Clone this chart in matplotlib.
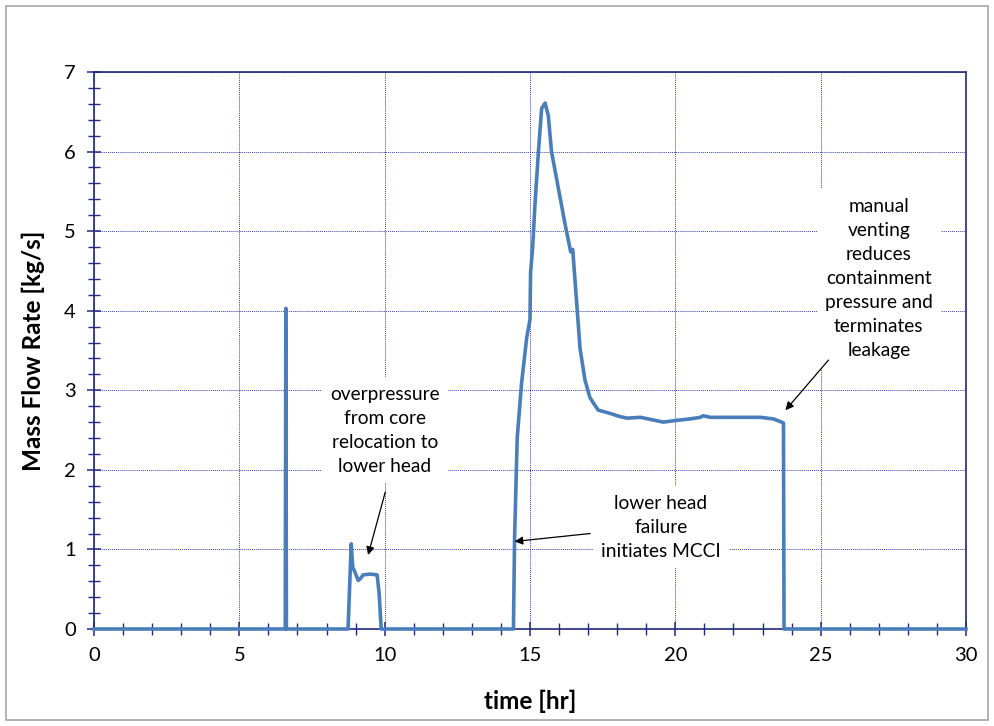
import matplotlib.pyplot as plt
from matplotlib.patches import Rectangle
from matplotlib.ticker import MultipleLocator

# time [hr] and mass flow rate [kg/s]
time_hr = [0, 6.58, 6.60, 6.62,
           8.74, 8.85, 8.90, 8.97, 9.09, 9.18, 9.26, 9.50, 9.74, 9.81, 9.88,
           14.43, 14.47, 14.56, 14.71, 14.89, 15.00, 15.02, 15.09, 15.17,
           15.29, 15.40, 15.52, 15.63, 15.74, 15.97, 16.20, 16.40, 16.47,
           16.51, 16.63, 16.72, 16.89, 17.06, 17.18, 17.35, 17.66, 18.09,
           18.34, 18.80, 19.20, 19.59, 20.00, 20.50, 20.86, 20.96, 21.20,
           22.00, 22.93, 23.38, 23.72, 23.74, 30]
flow = [0, 0, 4.03, 0,
        0, 1.07, 0.78, 0.72, 0.61, 0.64, 0.68, 0.69, 0.68, 0.45, 0,
        0, 1.15, 2.40, 3.09, 3.67, 3.89, 4.48, 4.79, 5.33,
        6.00, 6.54, 6.61, 6.45, 6.00, 5.55, 5.10, 4.74, 4.77,
        4.57, 3.98, 3.53, 3.13, 2.91, 2.84, 2.75, 2.72, 2.67,
        2.65, 2.66, 2.63, 2.60, 2.62, 2.64, 2.66, 2.68, 2.66,
        2.66, 2.66, 2.64, 2.59, 0, 0]

notes = ["overpressure\nfrom core\nrelocation to\nlower head",
         "lower head\nfailure\ninitiates MCCI",
         "manual\nventing\nreduces\ncontainment\npressure and\nterminates\nleakage"]
note_xy = [(10.0, 2.5), (19.5, 1.28), (27.0, 4.41)]
arrow_tail = [(10.02, 1.72), (17.07, 1.2), (25.27, 3.38)]
arrow_tip = [(9.43, 0.93), (14.47, 1.1), (23.79, 2.75)]

navy = '#1F2A7A'
plt.rcParams['font.family'] = ['Lato', 'DejaVu Sans']

fig = plt.figure(figsize=(9.94, 7.26), dpi=100)
ax = fig.add_axes([94 / 994, 1 - 629 / 726, (966 - 94) / 994, (629 - 72) / 726])

# light grey frame round the whole chart
fig.patches.append(Rectangle((6 / 994, 6 / 726), 982 / 994, 714 / 726,
                             transform=fig.transFigure, fill=False,
                             ec='#A6A6A6', lw=1.2))

ax.plot(time_hr, flow, color='#4A7EBB', lw=2.6, zorder=3, clip_on=False)

ax.set_xlim(0, 30)
ax.set_ylim(0, 7)
ax.xaxis.set_major_locator(MultipleLocator(5))
ax.xaxis.set_minor_locator(MultipleLocator(1))
ax.yaxis.set_major_locator(MultipleLocator(1))
ax.yaxis.set_minor_locator(MultipleLocator(0.2))
ax.grid(True, which='major', color='#4040A0', ls=(0, (1, 1)), lw=0.7)
ax.set_axisbelow(True)

for s in ax.spines.values():
    s.set_color(navy)
    s.set_linewidth(1.2)
ax.tick_params(which='major', direction='inout', length=10, width=1.1,
               color=navy, labelsize=14.5, pad=8)
ax.tick_params(which='minor', direction='inout', length=8, width=1.0,
               color=navy)

ax.set_xlabel('time [hr]', fontsize=17.5, fontweight='bold')
ax.set_ylabel('Mass Flow Rate [kg/s]', fontsize=17.5, fontweight='bold')
ax.xaxis.set_label_coords(0.5, -0.1095)
ax.yaxis.set_label_coords(-0.056, 0.5)

for txt, xy, tail, tip in zip(notes, note_xy, arrow_tail, arrow_tip):
    ax.text(xy[0], xy[1], txt, ha='center', va='center', fontsize=13.8,
            linespacing=1.5, zorder=4,
            bbox=dict(fc='white', ec='none', pad=6))
    ax.annotate('', xy=tip, xytext=tail, zorder=5,
                arrowprops=dict(arrowstyle='-|>', color='black', lw=0.9,
                                mutation_scale=12, shrinkA=0, shrinkB=0))

fig.savefig('out.png', dpi=100)
